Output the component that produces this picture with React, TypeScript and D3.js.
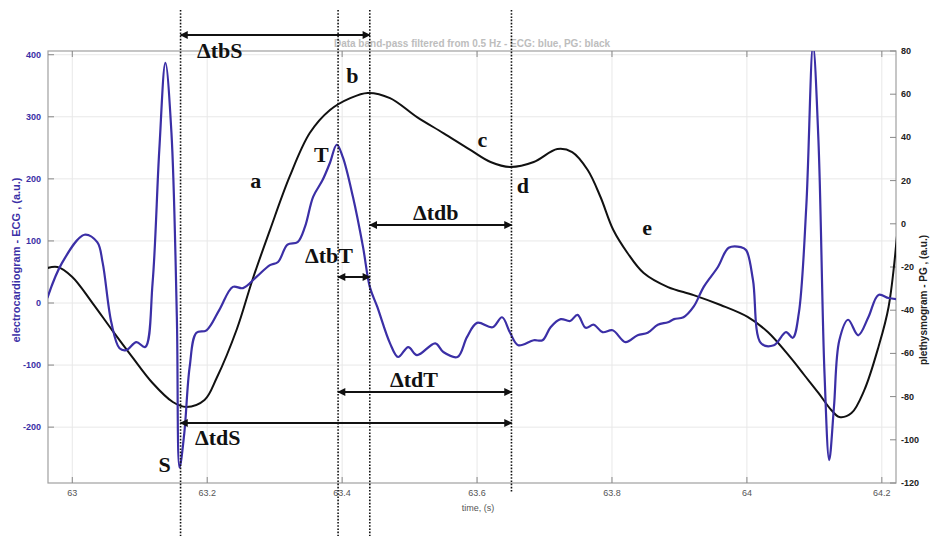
import React from 'react'
import * as d3 from 'd3'

// ECG trace (left axis, a.u.)
const ecgTime = [
  62.963, 62.985, 63.018, 63.037, 63.045, 63.058, 63.07, 63.08, 63.095, 63.108,
  63.119, 63.129, 63.138, 63.147, 63.155, 63.159, 63.166, 63.174, 63.184, 63.199,
  63.218, 63.238, 63.253, 63.273, 63.293, 63.305, 63.319, 63.334, 63.345, 63.357,
  63.371, 63.382, 63.392, 63.401, 63.416, 63.431, 63.441, 63.452, 63.471, 63.483,
  63.498, 63.511, 63.538, 63.55, 63.571, 63.585, 63.6, 63.623, 63.637, 63.649,
  63.661, 63.684, 63.697, 63.709, 63.724, 63.738, 63.749, 63.761, 63.773, 63.786,
  63.801, 63.82, 63.838, 63.853, 63.868, 63.883, 63.892, 63.906, 63.921, 63.936,
  63.957, 63.973, 63.991, 63.999, 64.009, 64.021, 64.04, 64.058, 64.068, 64.077,
  64.088, 64.098, 64.106, 64.115, 64.122, 64.129, 64.137, 64.15, 64.165, 64.18,
  64.195, 64.21, 64.223
]
const ecgValue = [
  8, 65, 110, 98, 65, -32, -73, -76, -63, -71,
  32, 247, 387, 274, -23, -265, -210, -103, -48, -44,
  -11, 26, 24, 42, 61, 66, 94, 98, 123, 171,
  198, 226, 255, 235, 171, 90, 26, -6, -65, -87,
  -71, -84, -65, -79, -87, -55, -32, -39, -23, -48,
  -68, -60, -60, -39, -26, -29, -19, -40, -35, -47,
  -44, -63, -52, -48, -35, -31, -26, -23, -6, 26,
  58, 89, 90, 85, 37, -65, -68, -47, -56, -16,
  155, 415, 263, -113, -253, -168, -60, -27, -52, -23,
  13, 8, 6
]

// plethysmogram trace (right axis, a.u.)
const pgTime = [
  62.963, 62.978, 63.0, 63.03, 63.059, 63.089, 63.119, 63.149, 63.169, 63.196,
  63.214, 63.244, 63.267, 63.293, 63.322, 63.352, 63.382, 63.412, 63.438, 63.471,
  63.511, 63.55, 63.59, 63.62, 63.649, 63.684, 63.719, 63.741, 63.764, 63.783,
  63.802, 63.823, 63.847, 63.883, 63.921, 63.961, 64.001, 64.031, 64.065, 64.085,
  64.106, 64.125, 64.137, 64.155, 64.174, 64.195, 64.21, 64.223
]
const pgValue = [
  -20.5, -20, -24.6, -36.7, -49.2, -61.7, -73.7, -82.5, -84.8, -81.6,
  -71.4, -48.7, -26, -2.9, 21.7, 42, 52.7, 58.2, 60.6, 58.2,
  49.4, 42, 34.2, 28.6, 26.3, 28.6, 34.6, 33.2, 24.9, 12.4,
  -2.9, -13.5, -22.8, -29.3, -33, -37.6, -43.1, -50.1, -62.1, -70,
  -78.3, -86.2, -89.4, -87.6, -77, -57, -38.5, -3.8
]

const timeTicks = [63, 63.2, 63.4, 63.6, 63.8, 64, 64.2]
const ecgTicks = [-200, -100, 0, 100, 200, 300, 400]
const pgTicks = [-120, -100, -80, -60, -40, -20, 0, 20, 40, 60, 80]

// fiducial instants (s)
const markerNames = ['S', 'T', 'b', 'd']
const markerTimes = [63.1605, 63.394, 63.441, 63.651]

const W = 930
const H = 536
const left = 48
const right = 896
const top = 51
const bottom = 483

const blue = '#3b2fa6'
const serif = '"Liberation Serif", "DejaVu Serif", serif'
const sans = '"Liberation Sans", Arial, sans-serif'

export default function App() {
  const x = d3.scaleLinear().domain([62.964, 64.221]).range([left, right])
  const yEcg = d3.scaleLinear().domain([-290, 406]).range([bottom, top])
  const yPg = d3.scaleLinear().domain([-120, 80]).range([bottom, top])

  const ecgLine = d3
    .line<number>()
    .x((_, i) => x(ecgTime[i]))
    .y(d => yEcg(d))
    .curve(d3.curveCatmullRom.alpha(0.5))
  const pgLine = d3
    .line<number>()
    .x((_, i) => x(pgTime[i]))
    .y(d => yPg(d))
    .curve(d3.curveCatmullRom.alpha(0.5))

  const mx = (name: string) => x(markerTimes[markerNames.indexOf(name)])

  // interval arrows between fiducial lines
  const intervals = [
    { label: 'ΔtbS', from: 'S', to: 'b', y: 35, tx: 197, ty: 58 },
    { label: 'Δtdb', from: 'b', to: 'd', y: 225, tx: 413, ty: 220 },
    { label: 'ΔtbT', from: 'T', to: 'b', y: 277, tx: 305, ty: 263 },
    { label: 'ΔtdT', from: 'T', to: 'd', y: 392, tx: 390, ty: 387 },
    { label: 'ΔtdS', from: 'S', to: 'd', y: 423, tx: 195, ty: 445 }
  ]

  // wave point letters: time position, baseline in px
  const letters: [string, number, number][] = [
    ['a', 63.272, 188],
    ['b', 63.415, 83],
    ['c', 63.608, 147],
    ['d', 63.668, 193],
    ['e', 63.852, 235],
    ['T', 63.369, 162],
    ['S', 63.137, 472]
  ]

  return (
    <svg
      width={W}
      height={H}
      style={{ position: 'absolute', left: 0, top: 0, display: 'block', background: '#fff' }}
    >
      <defs>
        <clipPath id="plot">
          <rect x={left} y={top} width={right - left} height={bottom - top} />
        </clipPath>
        <marker
          id="head"
          viewBox="0 0 10 10"
          refX="9"
          refY="5"
          markerWidth="9"
          markerHeight="8"
          markerUnits="userSpaceOnUse"
          orient="auto-start-reverse"
        >
          <path d="M0,0 L10,5 L0,10 z" fill="#111" />
        </marker>
      </defs>

      {/* grid */}
      <g stroke="#e8e8e8" strokeWidth={1}>
        {timeTicks.map(t => (
          <line key={'gx' + t} x1={x(t)} x2={x(t)} y1={top} y2={bottom} />
        ))}
        {ecgTicks.map(v => (
          <line key={'gy' + v} x1={left} x2={right} y1={yEcg(v)} y2={yEcg(v)} />
        ))}
      </g>

      {/* frame and ticks */}
      <rect x={left} y={top} width={right - left} height={bottom - top} fill="none" stroke="#a0a0a0" strokeWidth={1.2} />
      <g stroke="#888" strokeWidth={1}>
        {timeTicks.map(t => (
          <g key={'tx' + t}>
            <line x1={x(t)} x2={x(t)} y1={bottom} y2={bottom - 6} />
            <line x1={x(t)} x2={x(t)} y1={top} y2={top + 6} />
          </g>
        ))}
        {ecgTicks.map(v => (
          <line key={'tl' + v} x1={left} x2={left + 6} y1={yEcg(v)} y2={yEcg(v)} />
        ))}
        {pgTicks.map(v => (
          <line key={'tr' + v} x1={right} x2={right - 6} y1={yPg(v)} y2={yPg(v)} />
        ))}
      </g>

      {/* tick labels */}
      <g fontFamily={sans} fontSize={9} fontWeight="bold">
        {ecgTicks.map(v => (
          <text key={'ll' + v} x={41} y={yEcg(v) + 3} textAnchor="end" fill={blue}>
            {v}
          </text>
        ))}
        {pgTicks.map(v => (
          <text key={'rl' + v} x={901} y={yPg(v) + 3} fill="#222">
            {v}
          </text>
        ))}
        {timeTicks.map(t => (
          <text key={'bl' + t} x={x(t)} y={496} textAnchor="middle" fill="#555" fontWeight="normal">
            {d3.format('~g')(t)}
          </text>
        ))}
        <text x={478} y={511} textAnchor="middle" fill="#555" fontWeight="normal">
          time, (s)
        </text>
        <text transform="translate(20,260) rotate(-90)" textAnchor="middle" fill={blue} fontSize={11}>
          electrocardiogram - ECG , (a.u.)
        </text>
        <text transform="translate(927,300) rotate(-90)" textAnchor="middle" fill="#222" fontSize={10}>
          plethysmogram - PG , (a.u.)
        </text>
        <text x={472} y={47} textAnchor="middle" fill="#bdbdbd" fontSize={10}>
          Data band-pass filtered from 0.5 Hz - ECG: blue, PG: black
        </text>
      </g>

      {/* traces */}
      <g clipPath="url(#plot)" fill="none" strokeLinejoin="round">
        <path d={pgLine(pgValue) ?? ''} stroke="#111" strokeWidth={2} />
        <path d={ecgLine(ecgValue) ?? ''} stroke={blue} strokeWidth={2.2} />
      </g>

      {/* fiducial dotted lines */}
      <g stroke="#111" strokeWidth={1.6} strokeDasharray="1.6,1.6">
        {markerNames.map(n => (
          <line key={'m' + n} x1={mx(n)} x2={mx(n)} y1={10} y2={n === 'd' ? 492 : H} />
        ))}
      </g>

      {/* interval arrows */}
      <g>
        {intervals.map(iv => (
          <g key={iv.label}>
            <line
              x1={mx(iv.from)}
              x2={mx(iv.to)}
              y1={iv.y}
              y2={iv.y}
              stroke="#111"
              strokeWidth={2}
              markerStart="url(#head)"
              markerEnd="url(#head)"
            />
            <text x={iv.tx} y={iv.ty} fontFamily={serif} fontWeight="bold" fontSize={22} fill="#111">
              {iv.label}
            </text>
          </g>
        ))}
      </g>

      {/* wave letters */}
      <g fontFamily={serif} fontWeight="bold" fontSize={22} fill="#111" textAnchor="middle">
        {letters.map(([l, t, yy]) => (
          <text key={'l' + l + t} x={x(t)} y={yy}>
            {l}
          </text>
        ))}
      </g>
    </svg>
  )
}
